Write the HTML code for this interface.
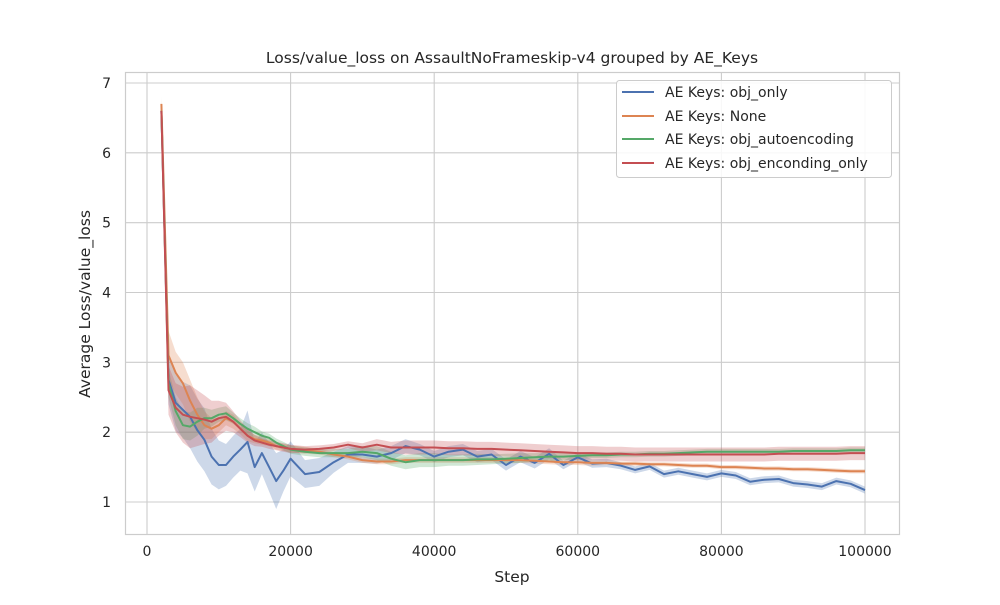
<!DOCTYPE html>
<html><head><meta charset="utf-8"><style>
html,body{margin:0;padding:0;background:#fff;}
svg text{font-family:"DejaVu Sans","Liberation Sans",sans-serif;fill:#262626;}
</style></head><body>
<svg id="chart" width="1000" height="600" xmlns="http://www.w3.org/2000/svg">
<rect x="0" y="0" width="1000" height="600" fill="#fff"/>
<g id="grid"></g>
<g id="bands"></g>
<g id="lines"></g>
<rect x="125.5" y="72.5" width="774" height="462" fill="none" stroke="#ccc" stroke-width="1.2"/>
<g id="xticks"></g>
<g id="yticks"></g>
<text x="512" y="63" font-size="15.5" text-anchor="middle">Loss/value_loss on AssaultNoFrameskip-v4 grouped by AE_Keys</text>
<text x="512" y="582" font-size="15.5" text-anchor="middle">Step</text>
<text x="0" y="0" font-size="15.5" text-anchor="middle" transform="translate(90,304) rotate(-90)">Average Loss/value_loss</text>
<g>
<rect x="616.5" y="80.5" width="275" height="97" rx="3" fill="#fff" fill-opacity="0.85" stroke="#ccc"/>
<g><line x1="622" y1="92" x2="654" y2="92" stroke="#4c72b0" stroke-width="2"/><text x="665" y="97" font-size="14">AE Keys: obj_only</text></g>
<g><line x1="622" y1="116" x2="654" y2="116" stroke="#dd8452" stroke-width="2"/><text x="665" y="121" font-size="14">AE Keys: None</text></g>
<g><line x1="622" y1="139" x2="654" y2="139" stroke="#55a868" stroke-width="2"/><text x="665" y="144" font-size="14">AE Keys: obj_autoencoding</text></g>
<g><line x1="622" y1="163" x2="654" y2="163" stroke="#c44e52" stroke-width="2"/><text x="665" y="168" font-size="14">AE Keys: obj_enconding_only</text></g>
</g>
</svg>
<script>
const steps = [2000,3000,4000,5000,6000,7000,8000,9000,10000,11000,12000,13000,14000,15000,16000,17000,18000,19000,20000,
22000,24000,26000,28000,30000,32000,34000,36000,38000,40000,42000,44000,46000,48000,50000,52000,54000,56000,58000,60000,
62000,64000,66000,68000,70000,72000,74000,76000,78000,80000,82000,84000,86000,88000,90000,92000,94000,96000,98000,100000];
const objOnly = [6.6,2.75,2.42,2.32,2.22,2.03,1.89,1.65,1.53,1.53,1.65,1.75,1.86,1.5,1.7,1.5,1.3,1.45,1.62,
1.4,1.43,1.57,1.68,1.68,1.65,1.7,1.8,1.75,1.65,1.72,1.75,1.65,1.68,1.53,1.65,1.56,1.69,1.53,1.64,
1.55,1.56,1.52,1.46,1.51,1.40,1.44,1.40,1.36,1.41,1.38,1.29,1.32,1.33,1.27,1.25,1.22,1.30,1.26,1.17];
const none = [6.7,3.1,2.85,2.7,2.45,2.25,2.1,2.05,2.1,2.2,2.15,2.05,1.95,1.9,1.88,1.85,1.8,1.78,1.76,
1.74,1.72,1.68,1.65,1.6,1.58,1.58,1.6,1.6,1.6,1.6,1.6,1.6,1.6,1.6,1.6,1.59,1.58,1.57,1.57,
1.56,1.56,1.55,1.55,1.54,1.54,1.53,1.52,1.52,1.5,1.5,1.49,1.48,1.48,1.47,1.47,1.46,1.45,1.44,1.44];
const autoenc = [6.6,2.7,2.3,2.1,2.08,2.15,2.2,2.2,2.25,2.27,2.2,2.12,2.05,2.0,1.95,1.92,1.85,1.8,1.75,
1.72,1.7,1.7,1.7,1.72,1.7,1.62,1.57,1.6,1.6,1.6,1.6,1.61,1.61,1.62,1.63,1.64,1.65,1.65,1.66,
1.67,1.67,1.68,1.68,1.69,1.69,1.7,1.71,1.72,1.72,1.72,1.72,1.72,1.72,1.73,1.73,1.73,1.73,1.74,1.74];
const encOnly = [6.6,2.6,2.35,2.25,2.22,2.2,2.18,2.15,2.2,2.22,2.15,2.05,1.95,1.88,1.85,1.82,1.8,1.78,1.76,
1.75,1.76,1.78,1.82,1.78,1.82,1.78,1.78,1.78,1.78,1.77,1.77,1.76,1.76,1.75,1.74,1.73,1.72,1.71,1.7,
1.7,1.69,1.69,1.68,1.68,1.68,1.68,1.68,1.68,1.68,1.68,1.68,1.68,1.69,1.69,1.69,1.69,1.69,1.7,1.7];
const ciObjOnly = [0.1,0.35,0.4,0.4,0.45,0.45,0.45,0.4,0.35,0.3,0.3,0.3,0.45,0.35,0.3,0.35,0.4,0.3,0.25,
0.2,0.2,0.15,0.12,0.12,0.1,0.1,0.1,0.08,0.08,0.08,0.08,0.08,0.08,0.08,0.08,0.08,0.08,0.06,0.06,
0.06,0.06,0.05,0.05,0.05,0.05,0.05,0.05,0.05,0.05,0.05,0.05,0.05,0.05,0.05,0.05,0.05,0.05,0.05,0.05];
const ciNone = [0.1,0.35,0.3,0.3,0.3,0.25,0.2,0.15,0.1,0.1,0.1,0.08,0.08,0.06,0.06,0.05,0.05,0.05,0.05,
0.05,0.04,0.04,0.04,0.04,0.04,0.04,0.04,0.04,0.04,0.04,0.04,0.04,0.04,0.04,0.04,0.04,0.04,0.04,0.04,
0.04,0.03,0.03,0.03,0.03,0.03,0.03,0.03,0.03,0.03,0.03,0.03,0.03,0.03,0.03,0.03,0.03,0.03,0.03,0.03];
const ciAutoenc = [0.1,0.2,0.2,0.2,0.2,0.2,0.15,0.12,0.1,0.1,0.08,0.08,0.08,0.08,0.06,0.06,0.06,0.06,0.06,
0.06,0.06,0.06,0.06,0.08,0.1,0.1,0.1,0.1,0.1,0.08,0.08,0.08,0.07,0.07,0.07,0.06,0.06,0.05,0.05,
0.04,0.04,0.04,0.04,0.04,0.04,0.04,0.04,0.04,0.04,0.04,0.04,0.04,0.04,0.04,0.04,0.04,0.04,0.04,0.04];
const ciEncOnly = [0.1,0.35,0.35,0.4,0.45,0.4,0.35,0.3,0.25,0.2,0.15,0.12,0.1,0.08,0.06,0.06,0.06,0.06,0.06,
0.05,0.05,0.05,0.05,0.06,0.08,0.08,0.1,0.1,0.1,0.1,0.1,0.1,0.1,0.1,0.1,0.1,0.1,0.1,0.1,
0.1,0.1,0.1,0.1,0.1,0.1,0.1,0.1,0.1,0.1,0.1,0.1,0.1,0.1,0.1,0.1,0.1,0.1,0.1,0.1];
const xTicks = [0,20000,40000,60000,80000,100000];
const yTicks = [1,2,3,4,5,6,7];

const NS = "http://www.w3.org/2000/svg";
function xs(v){ return 147 + v*(865-147)/100000; }
function ys(v){ return 502 - (v-1)*(502-83)/6; }
function mk(tag, attrs, parent){
  const e = document.createElementNS(NS, tag);
  for (const k in attrs) e.setAttribute(k, attrs[k]);
  parent.appendChild(e); return e;
}
const grid = document.getElementById('grid');
const xg = document.getElementById('xticks');
const yg = document.getElementById('yticks');
xTicks.forEach(t => {
  const l = mk('line', {x1:xs(t), x2:xs(t), y1:72, y2:535, stroke:'#ccc', 'stroke-width':1.1}, grid);
  
  
  const tx = mk('text', {x:xs(t), y:556, 'font-size':14, 'text-anchor':'middle'}, xg);
  tx.textContent = t;
  
  
});
yTicks.forEach(t => {
  const l = mk('line', {x1:125, x2:900, y1:ys(t), y2:ys(t), stroke:'#ccc', 'stroke-width':1.1}, grid);
  
  
  const tx = mk('text', {x:111, y:ys(t)+5, 'font-size':14, 'text-anchor':'end'}, yg);
  tx.textContent = t;
  
  
});
const series = [
  {name:'obj-only', vals:objOnly, ci:ciObjOnly, color:'#4c72b0'},
  {name:'none', vals:none, ci:ciNone, color:'#dd8452'},
  {name:'obj-autoencoding', vals:autoenc, ci:ciAutoenc, color:'#55a868'},
  {name:'obj-enconding-only', vals:encOnly, ci:ciEncOnly, color:'#c44e52'}
];
const bands = document.getElementById('bands');
const lines = document.getElementById('lines');
series.forEach(s => {
  let up = [], lo = [];
  steps.forEach((st,i) => {
    up.push(xs(st).toFixed(1)+','+ys(s.vals[i]+s.ci[i]).toFixed(1));
    lo.unshift(xs(st).toFixed(1)+','+ys(s.vals[i]-s.ci[i]).toFixed(1));
  });
  const b = mk('polygon', {points: up.concat(lo).join(' '), fill:s.color, 'fill-opacity':0.28, stroke:'none'}, bands);
  
  
});
series.forEach(s => {
  const pts = steps.map((st,i) => xs(st).toFixed(1)+','+ys(s.vals[i]).toFixed(1)).join(' ');
  const p = mk('polyline', {points:pts, fill:'none', stroke:s.color, 'stroke-width':2, 'stroke-linejoin':'round'}, lines);
  
  
});
</script>
</body></html>
